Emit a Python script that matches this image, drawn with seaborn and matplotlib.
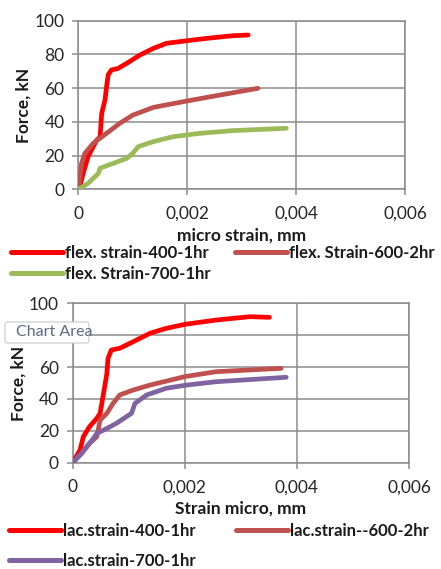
import numpy as np
import pandas as pd
import matplotlib
matplotlib.use("Agg")
import matplotlib.pyplot as plt
import seaborn as sns
from matplotlib.ticker import FuncFormatter
from matplotlib.patches import FancyBboxPatch

# ---------------- data ----------------
top_labels = ["flex. strain-400-1hr", "flex. Strain-600-2hr", "flex. Strain-700-1hr"]
top400_x = [0, 0.00002, 0.00009, 0.00018, 0.000275, 0.00034, 0.0004, 0.00043, 0.00049, 0.00052,
            0.00055, 0.00061, 0.00073, 0.00089, 0.00113, 0.00138, 0.00162, 0.00199, 0.00235, 0.00284, 0.00312]
top400_y = [0, 0.6, 9.5, 19.4, 25.3, 29.2, 31, 45, 53, 61, 68, 70.8, 71.7, 74.7, 79.6, 83.6, 86.6,
            88.1, 89.5, 91.1, 91.5]
top600_x = [0, 0.00006, 0.00012, 0.000275, 0.00052, 0.00076, 0.001, 0.00138, 0.002, 0.0026, 0.0033]
top600_y = [0, 15.4, 21.3, 27.3, 33.2, 39.1, 44, 48.6, 52.4, 55.9, 59.9]
top700_x = [0, 0.00009, 0.00018, 0.000275, 0.00037, 0.0004, 0.00064, 0.00089, 0.001, 0.0011,
            0.00138, 0.00174, 0.00223, 0.00284, 0.00382]
top700_y = [0, 1.6, 3.6, 6.5, 9.5, 12.5, 15.4, 18.4, 21.3, 25.3, 28.3, 31.2, 33.2, 34.8, 36.2]

bot_labels = ["lac.strain-400-1hr", "lac.strain--600-2hr", "lac.strain-700-1hr"]
bot400_x = [0, 0.00013, 0.00019, 0.0003, 0.00043, 0.00049, 0.00055, 0.00061, 0.00063, 0.00069,
            0.00084, 0.00108, 0.00138, 0.00167, 0.002, 0.00256, 0.00316, 0.00351]
bot400_y = [0, 7.9, 16.3, 22.6, 27.8, 31, 43.5, 56, 65.5, 70.7, 71.8, 75.9, 81.2, 84.3, 86.8,
            89.5, 91.6, 91.2]
bot600_x = [0, 0.00016, 0.0003, 0.00043, 0.00049, 0.00061, 0.00072, 0.00084, 0.00108, 0.00138,
            0.002, 0.00256, 0.00372]
bot600_y = [0, 5.9, 12.1, 16.3, 26.8, 31, 37.2, 42.5, 45.6, 48.7, 54, 57.1, 59.2]
bot700_x = [0, 0.00013, 0.00025, 0.00037, 0.00043, 0.00061, 0.00078, 0.00096, 0.00105, 0.00111,
            0.00132, 0.00167, 0.00203, 0.00256, 0.00381]
bot700_y = [0, 4.8, 10, 15.3, 18.4, 21.5, 24.7, 28.9, 31, 37.2, 42.5, 46.7, 48.7, 50.8, 53.6]

x_ticks = [0, 0.002, 0.004, 0.006]
y_ticks = [0, 20, 40, 60, 80, 100]

# ---------------- styling ----------------
sns.set_theme(style="white")
plt.rcParams["font.family"] = ["Lato", "DejaVu Sans"]

W, H = 441, 569
fig = plt.figure(figsize=(W / 100, H / 100), dpi=100)

def ax_rect(l, r, t, b):
    return [l / W, 1 - b / H, (r - l) / W, (b - t) / H]

ax1 = fig.add_axes(ax_rect(78.3, 405, 20.7, 189.3))
ax2 = fig.add_axes(ax_rect(72.7, 409, 303.3, 462.7))

def build(labels, xs, ys):
    frames = []
    for lab, x, y in zip(labels, xs, ys):
        frames.append(pd.DataFrame({"x": x, "y": y, "series": lab}))
    return pd.concat(frames, ignore_index=True)

df1 = build(top_labels, [top400_x, top600_x, top700_x], [top400_y, top600_y, top700_y])
df2 = build(bot_labels, [bot400_x, bot600_x, bot700_x], [bot400_y, bot600_y, bot700_y])

pal1 = dict(zip(top_labels, ["#FF0000", "#C0504D", "#9BBB59"]))
pal2 = dict(zip(bot_labels, ["#FF0000", "#C0504D", "#8064A2"]))

def fmt(v, pos):
    if abs(v) < 1e-12:
        return "0"
    return f"{v:.3f}".replace(".", ",")

for ax, df, pal, xlabel in [(ax1, df1, pal1, "micro strain, mm"),
                            (ax2, df2, pal2, "Strain micro, mm")]:
    sns.lineplot(data=df, x="x", y="y", hue="series", palette=pal, sort=False,
                 estimator=None, linewidth=3.4, ax=ax, legend=True, zorder=3,
                 solid_capstyle="round", solid_joinstyle="round")
    ax.set_xlim(0, 0.006)
    ax.set_ylim(0, 100)
    ax.set_xticks(x_ticks)
    ax.set_yticks(y_ticks)
    ax.xaxis.set_major_formatter(FuncFormatter(fmt))
    ax.grid(True, color="#8C8C8C", linewidth=1.1)
    ax.set_axisbelow(True)
    for s in ax.spines.values():
        s.set_color("#8C8C8C")
        s.set_linewidth(1.1)
    ax.tick_params(axis="both", which="major", length=4, width=1.1, color="#8C8C8C",
                   labelsize=12.5, labelcolor="#262626", pad=6, direction="out",
                   bottom=True, left=True)
    ax.tick_params(axis="x", pad=8)
    ax.set_xlabel(xlabel, fontsize=12.5, fontweight="bold", color="#1a1a1a", labelpad=4)
    ax.set_ylabel("Force, kN", fontsize=12.5, fontweight="bold", color="#1a1a1a", labelpad=2)
    h, l = ax.get_legend_handles_labels()
    ax.get_legend().remove()
    for hh in h:
        hh.set_linewidth(3.6)
        hh.set_solid_capstyle("round")
    ax._hl = (h, l)

# bottom chart: "80" label is hidden behind the tooltip in the reference
ax2.set_yticklabels(["0", "20", "40", "60", "", "100"])

# legends in figure pixel coordinates: column 1 (400, 700), column 2 (600)
def place_legend(ax, x1, x2, y0, rowgap):
    h, l = ax._hl
    common = dict(loc="upper left", frameon=False, handlelength=3.1,
                  handletextpad=0.12, borderaxespad=0, borderpad=0,
                  labelspacing=rowgap, prop={"weight": "bold", "size": 12})
    legA = fig.legend([h[0], h[2]], [l[0], l[2]],
                      bbox_to_anchor=(x1 / W, 1 - y0 / H), **common)
    legB = fig.legend([h[1]], [l[1]],
                      bbox_to_anchor=(x2 / W, 1 - y0 / H), **common)
    for leg in (legA, legB):
        for t in leg.get_texts():
            t.set_color("#1a1a1a")

place_legend(ax1, 11, 235, 245, 0.28)
place_legend(ax2, 9, 236, 523, 0.85)

# "Chart Area" tooltip artifact
box = FancyBboxPatch((5 / W, 1 - 343 / H), 84 / W, 21 / H,
                     boxstyle="round,pad=0,rounding_size=0.006",
                     transform=fig.transFigure, fc="white", ec="#c8c8c8", lw=0.8,
                     zorder=5)
fig.patches.append(box)
fig.text(16 / W, 1 - 332.5 / H, "Chart Area", fontsize=11.5, color="#5a6b80",
         va="center", ha="left", zorder=6)

fig.savefig("out.png", dpi=100)
